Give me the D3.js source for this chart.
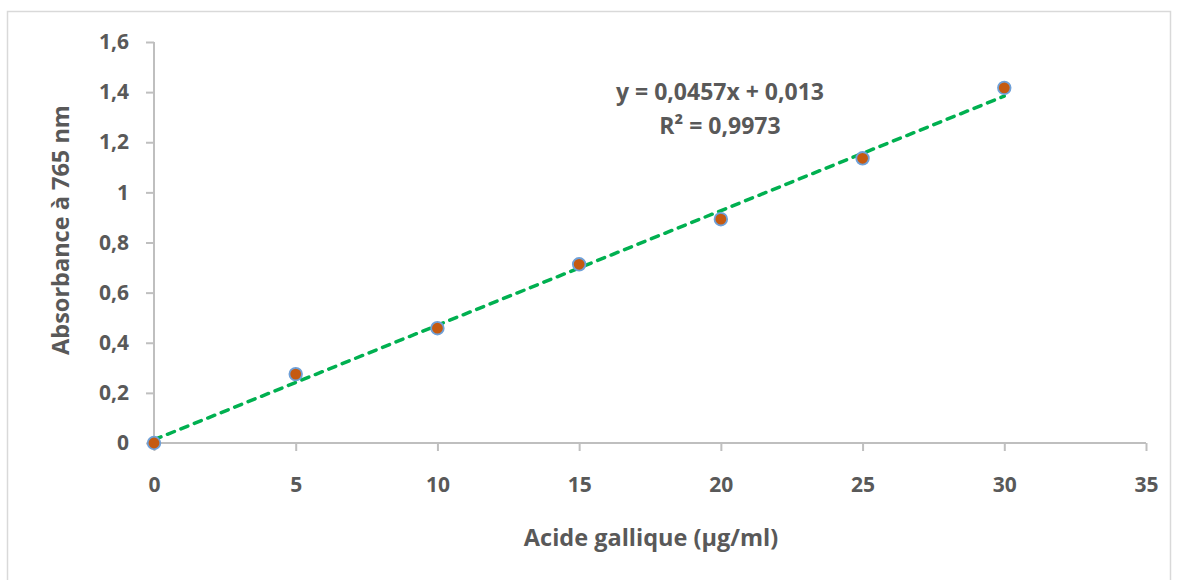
<!DOCTYPE html>
<html>
<head>
<meta charset="utf-8">
<script src="https://cdn.jsdelivr.net/npm/d3@7"></script>
<style>
  html, body { margin: 0; padding: 0; background: #fff; }
  svg { display: block; }
  text { font-family: "Open Sans", "Liberation Sans", sans-serif; font-weight: 700; fill: #595959; }
</style>
</head>
<body>
<svg id="chart" width="1178" height="580"></svg>
<script>
// Gallic acid calibration: concentration (µg/ml) vs absorbance at 765 nm
const concentrations = [0, 5, 10, 15, 20, 25, 30];
const absorbances = [0, 0.275, 0.458, 0.713, 0.893, 1.136, 1.417];
const xTicks = [0, 5, 10, 15, 20, 25, 30, 35];
const yTicks = [0, 0.2, 0.4, 0.6, 0.8, 1, 1.2, 1.4, 1.6];
const slope = 0.0457;
const intercept = 0.013;
const equationLines = ["y = 0,0457x + 0,013", "R² = 0,9973"];

const svg = d3.select("#chart");
const margin = { left: 154, right: 32, top: 42, bottom: 137 };
const W = 1178, H = 580;
const FONT = "'Open Sans', 'Liberation Sans', sans-serif";

// chart area frame
svg.append("rect")
  .attr("x", 7.5).attr("y", 11.5)
  .attr("width", 1163).attr("height", 600)
  .attr("fill", "#fff").attr("stroke", "#d9d9d9").attr("stroke-width", 1.5);

const x = d3.scaleLinear().domain([0, 35]).range([margin.left, W - margin.right]);
const y = d3.scaleLinear().domain([0, 1.6]).range([H - margin.bottom, margin.top]);

const fmt = d => String(+d.toFixed(1)).replace(".", ",");

// y axis
const gy = svg.append("g").attr("transform", `translate(${x(0)},0)`)
  .call(d3.axisLeft(y).tickValues(yTicks).tickFormat(fmt).tickSize(8).tickPadding(17));
// x axis
const gx = svg.append("g").attr("transform", `translate(0,${y(0)})`)
  .call(d3.axisBottom(x).tickValues(xTicks).tickFormat(d => d).tickSize(8).tickPadding(26));

[gx, gy].forEach(g => {
  g.select(".domain").attr("stroke", "#bfbfbf").attr("stroke-width", 2);
  g.selectAll(".tick line").attr("stroke", "#bfbfbf").attr("stroke-width", 2);
  g.selectAll(".tick text").attr("fill", "#595959").style("font-size", "21px")
    .style("font-family", FONT).style("font-weight", 700);
});
gx.select(".domain").attr("d", `M${x(0)},0H${x(35)}`);
gy.select(".domain").attr("d", `M0,${y(0)}V${y(1.6)}`);

// linear trendline
const xFit = [0, 30];
svg.append("line")
  .attr("x1", x(xFit[0])).attr("y1", y(slope * xFit[0] + intercept))
  .attr("x2", x(xFit[1])).attr("y2", y(slope * xFit[1] + intercept))
  .attr("stroke", "#00b050").attr("stroke-width", 3.5)
  .attr("stroke-dasharray", "7.5,7").attr("stroke-linecap", "round");

// data points
svg.append("g").selectAll("circle")
  .data(concentrations.map((c, i) => [c, absorbances[i]]))
  .join("circle")
  .attr("cx", d => x(d[0])).attr("cy", d => y(d[1]))
  .attr("r", 6.3)
  .attr("fill", "#c55a11")
  .attr("stroke", "#6fa0d8").attr("stroke-width", 1.8);

// regression equation
svg.append("text").attr("x", 720).attr("y", 100)
  .attr("text-anchor", "middle").style("font-size", "23px").text(equationLines[0]);
svg.append("text").attr("x", 720).attr("y", 134)
  .attr("text-anchor", "middle").style("font-size", "23px").text(equationLines[1]);

// axis titles
svg.append("text").attr("x", 651).attr("y", 546)
  .attr("text-anchor", "middle").style("font-size", "23.5px").text("Acide gallique (µg/ml)");
svg.append("text")
  .attr("transform", "translate(69,230) rotate(-90)")
  .attr("text-anchor", "middle").style("font-size", "23.5px").text("Absorbance à 765 nm");
</script>
</body>
</html>
